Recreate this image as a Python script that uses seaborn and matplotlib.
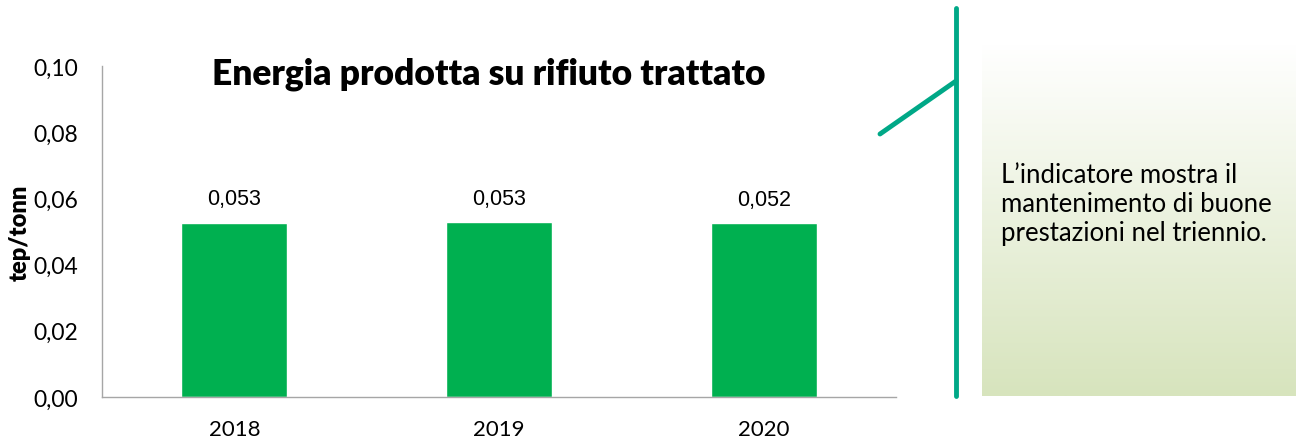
import numpy as np
import pandas as pd
import matplotlib
matplotlib.use("Agg")
import matplotlib.pyplot as plt
from matplotlib.lines import Line2D
from matplotlib.colors import LinearSegmentedColormap
import seaborn as sns

# dati
anni = ["2018", "2019", "2020"]
valori = [0.0527, 0.0528, 0.0525]
etichette = ["0,053", "0,053", "0,052"]
yticks = [0.00, 0.02, 0.04, 0.06, 0.08, 0.10]

df = pd.DataFrame({"anno": anni, "valore": valori})

sns.set_style("white")
plt.rcParams["font.family"] = ["Lato", "DejaVu Sans"]
plt.rcParams["text.color"] = "black"
plt.rcParams["axes.labelcolor"] = "black"
plt.rcParams["xtick.labelcolor"] = "black"
plt.rcParams["ytick.labelcolor"] = "black"

fig = plt.figure(figsize=(12.96, 4.39), dpi=100)
ax = fig.add_axes([0.0787, 0.0934, 0.6127, 0.754])

sns.barplot(data=df, x="anno", y="valore", color="#00B050", width=0.4,
            saturation=1, ax=ax)

ax.set_xlim(-0.5, 2.5)
ax.set_ylim(0, 0.10)
ax.set_yticks(yticks)
ax.set_yticklabels([f"{v:.2f}".replace(".", ",") for v in yticks], fontsize=16.5)

# tacche sui confini delle categorie, etichette al centro
ax.set_xticks([-0.5, 0.5, 1.5, 2.5])
ax.set_xticklabels([])
ax.set_xticks([0, 1, 2], minor=True)
ax.set_xticklabels(anni, minor=True, fontsize=16)
ax.tick_params(axis="x", which="minor", length=0, pad=16)
ax.tick_params(axis="x", which="major", length=5, width=1, color="#A6A6A6", direction="out")
ax.tick_params(axis="y", length=5, width=1, color="#A6A6A6", direction="out", pad=12)

for s in ["top", "right"]:
    ax.spines[s].set_visible(False)
for s in ["left", "bottom"]:
    ax.spines[s].set_color("#A6A6A6")
    ax.spines[s].set_linewidth(1)

ax.set_xlabel("")
ax.set_ylabel("tep/tonn", fontsize=17, fontweight="heavy", labelpad=2)

for i, (v, t) in enumerate(zip(valori, etichette)):
    ax.text(i, v + 0.0040, t, ha="center", va="bottom", fontsize=15.5,
            family="Liberation Sans", color="black")

fig.text(0.377, 0.83, "Energia prodotta su rifiuto trattato", ha="center",
         va="center", fontsize=25.5, fontweight="heavy", color="black")

# riquadro con sfumatura
box = fig.add_axes([982 / 1296, 1 - 397 / 439, (1296 - 982) / 1296, (397 - 45) / 439])
cmap = LinearSegmentedColormap.from_list("g", ["#D7E4BD", "#FFFFFF"])
grad = np.linspace(0, 1, 256).reshape(-1, 1)
box.imshow(grad, aspect="auto", cmap=cmap, origin="lower", extent=[0, 1, 0, 1])
box.set_axis_off()

fig.text(1001 / 1296, 1 - 205 / 439,
         "L\u2019indicatore mostra il\nmantenimento di buone\nprestazioni nel triennio.",
         ha="left", va="center", fontsize=18.5, linespacing=1.2, color="black")

# linee decorative
teal = "#00A887"
fig.add_artist(Line2D([956 / 1296, 956 / 1296], [1 - 9 / 439, 1 - 397 / 439],
                      transform=fig.transFigure, color=teal, lw=3.5))
fig.add_artist(Line2D([880 / 1296, 956 / 1296], [1 - 135 / 439, 1 - 82 / 439],
                      transform=fig.transFigure, color=teal, lw=3.5))

fig.savefig("out.png", dpi=100)
